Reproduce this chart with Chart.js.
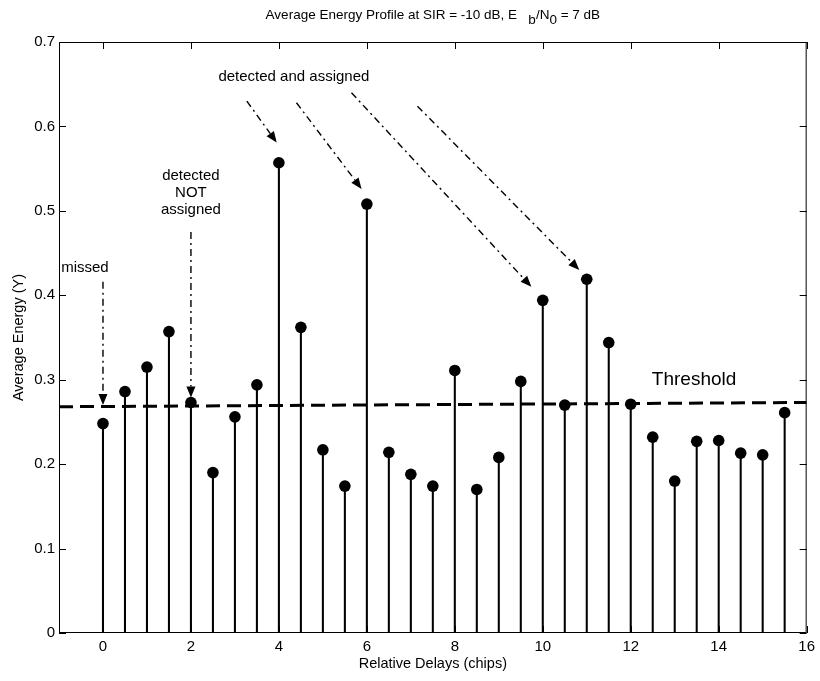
<!DOCTYPE html>
<html><head><meta charset="utf-8">
<script src="https://cdn.jsdelivr.net/npm/chart.js@4.4.1/dist/chart.umd.min.js"></script>
<style>html,body{margin:0;padding:0;background:#fff}#wrap{width:820px;height:681px;position:relative}canvas{display:block}</style>
</head><body><div id="wrap"><canvas id="c" width="820" height="681" style="width:820px;height:681px"></canvas></div>
<script>
const delays = [0,0.5,1,1.5,2,2.5,3,3.5,4,4.5,5,5.5,6,6.5,7,7.5,8,8.5,9,9.5,10,10.5,11,11.5,12,12.5,13,13.5,14,14.5,15,15.5];
const energy = [0.248,0.286,0.315,0.357,0.273,0.190,0.256,0.294,0.557,0.362,0.217,0.174,0.508,0.214,0.188,0.174,0.311,0.170,0.208,0.298,0.394,0.270,0.419,0.344,0.271,0.232,0.180,0.227,0.228,0.213,0.211,0.261];
const thresholdX = [-1, 16];
const thresholdY = [0.268, 0.273];
const xTickValues = [0,2,4,6,8,10,12,14,16];
const yTickValues = [0,0.1,0.2,0.3,0.4,0.5,0.6,0.7];
const titleParts = [["Average Energy Profile at SIR = -10 dB, E   ",0],["b",1],["/N",0],["0",1],[" = 7 dB",0]];
// annotation arrows in data units: [fromX, fromY, toX, toY]
const arrows = [[0,0.416,0,0.270],[2,0.475,2,0.279],[3.27,0.630,3.95,0.581],[4.40,0.628,5.88,0.526],[5.65,0.640,9.74,0.410],[7.15,0.624,10.83,0.430]];
const notes = [["missed",-0.41,0.432],["detected",2.0,0.541],["NOT",2.0,0.521],["assigned",2.0,0.501],["detected and assigned",4.34,0.659]];
const thresholdNote = ["Threshold",13.44,0.300];

const FONT = "'Liberation Sans', Arial, sans-serif";

const decor = {
  id: 'decor',
  afterDatasetsDraw(chart) {
    const ctx = chart.ctx, xs = chart.scales.x, ys = chart.scales.y, a = chart.chartArea;
    ctx.save();
    ctx.strokeStyle = '#000'; ctx.lineWidth = 1;
    ctx.strokeRect(a.left + 0.5, a.top + 0.5, a.right - a.left - 1, a.bottom - a.top - 1);
    ctx.beginPath();
    xTickValues.forEach(v => {
      const px = Math.round(xs.getPixelForValue(v)) + 0.5;
      ctx.moveTo(px, a.top); ctx.lineTo(px, a.top + 7);
      ctx.moveTo(px, a.bottom); ctx.lineTo(px, a.bottom - 7);
    });
    yTickValues.forEach(v => {
      const py = Math.round(ys.getPixelForValue(v)) + 0.5;
      ctx.moveTo(a.left, py); ctx.lineTo(a.left + 7, py);
      ctx.moveTo(a.right, py); ctx.lineTo(a.right - 7, py);
    });
    ctx.stroke();
    arrows.forEach(([x1,y1,x2,y2]) => {
      const p1 = [xs.getPixelForValue(x1), ys.getPixelForValue(y1)];
      const p2 = [xs.getPixelForValue(x2), ys.getPixelForValue(y2)];
      const ang = Math.atan2(p2[1]-p1[1], p2[0]-p1[0]);
      const L = 11, W = 4.5;
      const bx = p2[0] - L*Math.cos(ang), by = p2[1] - L*Math.sin(ang);
      ctx.setLineDash([7,4,2,4]);
      ctx.lineWidth = 1.4;
      ctx.beginPath(); ctx.moveTo(p1[0], p1[1]); ctx.lineTo(bx, by); ctx.stroke();
      ctx.setLineDash([]);
      ctx.beginPath();
      ctx.moveTo(p2[0], p2[1]);
      ctx.lineTo(bx + W*Math.sin(ang), by - W*Math.cos(ang));
      ctx.lineTo(bx - W*Math.sin(ang), by + W*Math.cos(ang));
      ctx.closePath(); ctx.fillStyle = '#000'; ctx.fill();
    });
    ctx.fillStyle = '#000';
    ctx.textAlign = 'center'; ctx.textBaseline = 'middle';
    ctx.font = '15px ' + FONT;
    notes.forEach(([t,x,y]) => ctx.fillText(t, xs.getPixelForValue(x), ys.getPixelForValue(y)));
    ctx.font = '19px ' + FONT;
    ctx.fillText(thresholdNote[0], xs.getPixelForValue(thresholdNote[1]), ys.getPixelForValue(thresholdNote[2]));
    ctx.font = '13.5px ' + FONT;
    ctx.textAlign = 'left'; ctx.textBaseline = 'alphabetic';
    let total = 0;
    titleParts.forEach(([t]) => total += ctx.measureText(t).width);
    let x = (a.left + a.right) / 2 - total / 2;
    titleParts.forEach(([t, sub]) => {
      ctx.fillText(t, x, 19 + (sub ? 5 : 0));
      x += ctx.measureText(t).width;
    });
    ctx.restore();
  }
};

new Chart(document.getElementById('c'), {
  data: {
    datasets: [
      { type: 'scatter', data: delays.map((d,i) => ({x:d, y:energy[i]})), pointRadius: 5.8, pointHoverRadius: 5.8,
        backgroundColor: '#000', borderColor: '#000', borderWidth: 0, order: 0 },
      { type: 'line', data: thresholdX.map((d,i) => ({x:d, y:thresholdY[i]})), borderColor: '#000', borderWidth: 3,
        borderDash: [14,7], pointRadius: 0, fill: false, order: 1 },
      { type: 'bar', data: delays.map((d,i) => ({x:d, y:energy[i]})), backgroundColor: '#000', barThickness: 1.4, order: 2 }
    ]
  },
  options: {
    responsive: false, maintainAspectRatio: false, animation: false, devicePixelRatio: 1,
    layout: { padding: { top: 42, right: 12, left: 0, bottom: 0 } },
    plugins: { legend: { display: false }, tooltip: { enabled: false }, title: { display: false } },
    scales: {
      x: { type: 'linear', min: -1, max: 16, offset: false,
        grid: { display: false, drawTicks: false }, border: { display: false },
        afterBuildTicks: s => { s.ticks = xTickValues.map(v => ({value: v})); },
        afterFit: s => { s.height = 48; },
        ticks: { color: '#000', font: { family: FONT, size: 15 }, padding: 5, maxRotation: 0, autoSkip: false },
        title: { display: true, text: 'Relative Delays (chips)', color: '#000', font: { family: FONT, size: 14.5 }, padding: { top: 0, bottom: 8 } }
      },
      y: { type: 'linear', min: 0, max: 0.7,
        grid: { display: false, drawTicks: false }, border: { display: false },
        afterBuildTicks: s => { s.ticks = yTickValues.map(v => ({value: v})); },
        afterFit: s => { s.width = 59; },
        ticks: { color: '#000', font: { family: FONT, size: 15 }, padding: 4, autoSkip: false,
          callback: v => v === 0 ? '0' : v.toFixed(1) },
        title: { display: true, text: 'Average Energy (Y)', color: '#000', font: { family: FONT, size: 14.5 }, padding: { top: 10, bottom: 0 } }
      }
    }
  },
  plugins: [decor]
});
</script></body></html>
